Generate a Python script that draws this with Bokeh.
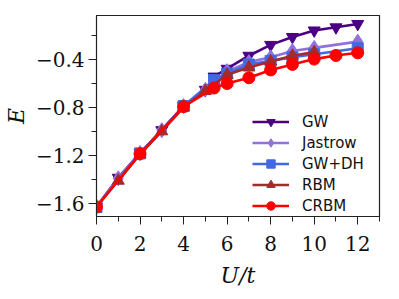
from bokeh.plotting import figure
from bokeh.models import (SingleIntervalTicker, CustomJSTickFormatter, Legend,
                          LegendItem, Range1d)
from bokeh.embed import file_html
from bokeh.resources import INLINE

# ---- data ----
labels = ["GW", "Jastrow", "GW+DH", "RBM", "CRBM"]

u_gw = [0, 1, 2, 3, 4, 5, 5.4, 6, 7, 8, 9, 10, 11, 12]
e_gw = [-1.625, -1.385, -1.18, -0.99, -0.79, -0.655, -0.545, -0.48, -0.372,
        -0.282, -0.216, -0.162, -0.136, -0.108]

u_jas = [0, 1, 2, 3, 4, 5, 6, 7, 8, 9, 10, 12]
e_jas = [-1.625, -1.39, -1.18, -0.99, -0.79, -0.655, -0.50, -0.425, -0.385,
         -0.333, -0.307, -0.255]

u_gwdh = [0, 2, 4, 5.4, 6, 7, 8, 9, 10, 12]
e_gwdh = [-1.628, -1.183, -0.79, -0.575, -0.52, -0.445, -0.415, -0.385,
          -0.36, -0.31]

u_rbm = [1, 2, 3, 4, 5, 6, 7, 8, 9, 10]
e_rbm = [-1.41, -1.19, -1.0, -0.80, -0.665, -0.53, -0.47, -0.42, -0.372, -0.342]

u_crbm = [0, 2, 4, 5.4, 6, 7, 8, 9, 10, 11, 12]
e_crbm = [-1.628, -1.187, -0.795, -0.64, -0.603, -0.555, -0.49, -0.444, -0.40,
          -0.37, -0.348]

x_ticks_interval = 2
y_ticks_interval = 0.4

# ---- styling ----
colors = ["#4B0082", "#9370DB", "#4169E1", "#A52A2A", "#FF0000"]
markers = ["inverted_triangle", "diamond", "square", "triangle", "circle"]
msizes = [12, 15, 11, 12, 12]

p = figure(width=390, height=290, output_backend="svg", toolbar_location=None,
           x_range=Range1d(0, 13), y_range=Range1d(-1.707, -0.038),
           min_border_left=96, min_border_right=11, min_border_top=15,
           min_border_bottom=57)

p.xgrid.visible = False
p.ygrid.visible = False
p.outline_line_color = "#222222"
p.outline_line_width = 1.2
p.background_fill_color = "white"
p.border_fill_color = "white"

series = [(u_gw, e_gw), (u_jas, e_jas), (u_gwdh, e_gwdh), (u_rbm, e_rbm),
          (u_crbm, e_crbm)]
items = []
for (u, e), lab, c, m, s in zip(series, labels, colors, markers, msizes):
    lr = p.line(u, e, line_color=c, line_width=2.6)
    sr = p.scatter(u, e, marker=m, size=s, fill_color=c, line_color=c)
    items.append(LegendItem(label=lab, renderers=[lr, sr]))

legend = Legend(items=items, location=(156, 0), padding=0, margin=0,
                border_line_alpha=0, background_fill_alpha=0,
                glyph_width=37, glyph_height=21, label_height=21, spacing=0,
                label_standoff=13, label_text_font="DejaVu Sans",
                label_text_font_size="15px", label_text_color="#111111")
p.add_layout(legend, "center")

for ax in (p.xaxis[0], p.yaxis[0]):
    ax.major_label_text_font = "DejaVu Serif"
    ax.major_label_text_font_size = "20px"
    ax.major_label_text_color = "#111111"
    ax.axis_label_text_font = "DejaVu Serif"
    ax.axis_label_text_font_style = "italic"
    ax.axis_label_text_font_size = "22px"
    ax.axis_label_text_color = "#111111"
    ax.axis_line_color = "#222222"
    ax.major_tick_line_color = "#222222"
    ax.minor_tick_line_color = "#222222"
    ax.major_tick_in = 0
    ax.minor_tick_in = 0
    ax.major_tick_out = 8
    ax.minor_tick_out = 5

p.xaxis[0].ticker = SingleIntervalTicker(interval=x_ticks_interval, num_minor_ticks=2)
p.yaxis[0].ticker = SingleIntervalTicker(interval=y_ticks_interval, num_minor_ticks=2)
p.yaxis[0].formatter = CustomJSTickFormatter(
    code="return (tick < 0 ? '\\u2212' : '') + Math.abs(tick).toFixed(1);")
p.xaxis[0].axis_label = "U/t"
p.yaxis[0].axis_label = "E"
p.xaxis[0].major_label_standoff = 11
p.yaxis[0].major_label_standoff = 4
p.xaxis[0].axis_label_standoff = 9
p.yaxis[0].axis_label_standoff = 4

open("out.html", "w").write(file_html(p, INLINE))
